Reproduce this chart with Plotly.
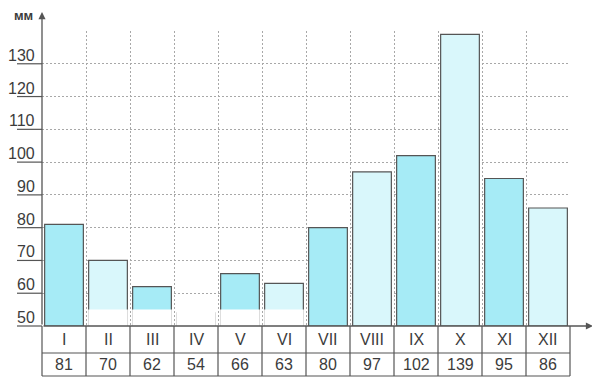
import plotly.graph_objects as go

months = ["I", "II", "III", "IV", "V", "VI", "VII", "VIII", "IX", "X", "XI", "XII"]
precip = [81, 70, 62, 54, 66, 63, 80, 97, 102, 139, 95, 86]
y_ticks = [50, 60, 70, 80, 90, 100, 110, 120, 130]
y_unit = "мм"
# months whose bar bottoms are printed white (scan)
white_base_months = ["II", "III", "IV", "V", "VI"]
white_base_top = 55

OFF = 8  # default body margin of the html page
W, H = 600 - OFF, 391 - OFF
PX0, PX1, PY0, PY1 = 42, 570, 31, 326  # plot area in page pixels
L, T = PX0 - OFF, PY0 - OFF
R, B = W - (PX1 - OFF), H - (PY1 - OFF)
PW, PH = PX1 - PX0, PY1 - PY0
BASE = 50
YMAX = 140

DARK = "#a6ebf6"
LIGHT = "#d9f7fb"
EDGE = "#555555"
GRID = "#a8a8a8"
TXT = "#3c3c3c"
FONT = "Liberation Sans Narrow, Liberation Sans, Arial, sans-serif"

xpos = list(range(1, len(months) + 1))
colors = [DARK if i % 2 == 0 else LIGHT for i in range(len(months))]

fig = go.Figure()
fig.add_trace(go.Bar(
    x=xpos, y=[v - BASE for v in precip], base=BASE, width=0.88,
    marker=dict(color=colors, line=dict(color=EDGE, width=1.2)),
    hoverinfo="skip", showlegend=False,
))
wx = [xpos[months.index(m)] for m in white_base_months]
wy = []
for m in white_base_months:
    v = precip[months.index(m)]
    wy.append((white_base_top - BASE) if v >= white_base_top else (v - BASE + 1))
fig.add_trace(go.Bar(
    x=wx, y=wy, base=BASE, width=0.9,
    marker=dict(color="white", line=dict(width=0)),
    hoverinfo="skip", showlegend=False,
))

def px_x(px):
    return (px - PX0) / PW

def px_y(py):
    return (PY1 - py) / PH

shapes = []
annotations = []

# table
row1_bot = px_y(353)
row2_bot = px_y(376)
for yy in [row1_bot, row2_bot]:
    shapes.append(dict(type="line", xref="paper", yref="paper", x0=0, x1=1, y0=yy, y1=yy,
                       line=dict(color=EDGE, width=1.2)))
for i in range(len(months) + 1):
    xx = i / len(months)
    shapes.append(dict(type="line", xref="paper", yref="paper", x0=xx, x1=xx, y0=0, y1=row2_bot,
                       line=dict(color=EDGE, width=1.2)))
for i, (m, v) in enumerate(zip(months, precip)):
    annotations.append(dict(x=xpos[i], y=row1_bot / 2, xref="x", yref="paper", text=m,
                            showarrow=False, font=dict(size=16, color=TXT, family=FONT),
                            xanchor="center", yanchor="middle"))
    annotations.append(dict(x=xpos[i], y=(row1_bot + row2_bot) / 2, xref="x", yref="paper", text=str(v),
                            showarrow=False, font=dict(size=16, color=TXT, family=FONT),
                            xanchor="center", yanchor="middle"))

# y tick labels with underlines
for t in y_ticks:
    yp = (t - BASE) / (YMAX - BASE)
    shapes.append(dict(type="line", xref="paper", yref="paper", x0=px_x(17), x1=0, y0=yp, y1=yp,
                       line=dict(color=EDGE, width=1.2)))
    annotations.append(dict(x=px_x(37), y=t, xref="paper", yref="y", text=str(t), showarrow=False,
                            xanchor="right", yanchor="bottom", yshift=-2,
                            font=dict(size=16, color=TXT, family=FONT)))

# axes with arrows
annotations.append(dict(x=px_x(593), y=0, xref="paper", yref="paper", ax=-(593 - PX0), ay=0,
                        axref="pixel", ayref="pixel", text="", showarrow=True, arrowhead=2,
                        arrowsize=1.1, arrowwidth=1.3, arrowcolor=EDGE))
annotations.append(dict(x=0, y=px_y(12), xref="paper", yref="paper", ax=0, ay=(PY1 - 12),
                        axref="pixel", ayref="pixel", text="", showarrow=True, arrowhead=2,
                        arrowsize=1.1, arrowwidth=1.3, arrowcolor=EDGE))
annotations.append(dict(x=px_x(35), y=px_y(16), xref="paper", yref="paper", text="<b>" + y_unit + "</b>",
                        showarrow=False, xanchor="right", yanchor="middle",
                        font=dict(size=13, color=TXT, family="Liberation Sans, Arial, sans-serif")))

fig.update_layout(
    width=W, height=H,
    margin=dict(l=L, r=R, t=T, b=B),
    paper_bgcolor="white", plot_bgcolor="white",
    barmode="overlay",
    shapes=shapes, annotations=annotations,
    xaxis=dict(range=[0.5, 12.5], tick0=0.5, dtick=1, showticklabels=False, ticks="",
               showgrid=True, gridcolor=GRID, griddash="2px,2px", gridwidth=1,
               zeroline=False, showline=False, fixedrange=True),
    yaxis=dict(range=[BASE, YMAX], tick0=BASE, dtick=10, showticklabels=False, ticks="",
               showgrid=True, gridcolor=GRID, griddash="2px,2px", gridwidth=1,
               zeroline=False, showline=False, fixedrange=True),
)

fig.write_html("out.html")
